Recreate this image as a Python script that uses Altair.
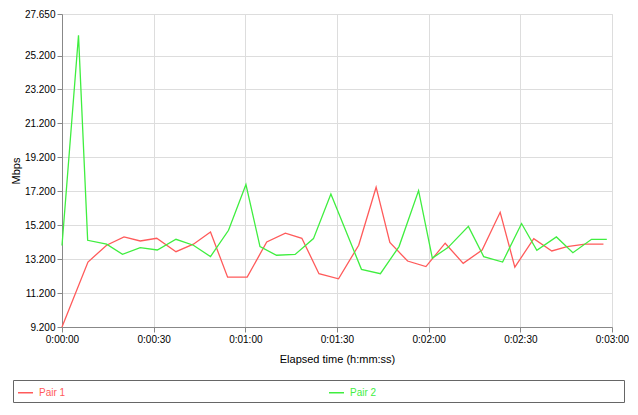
import altair as alt
import pandas as pd

# Pair 1 (red)
t1 = [0, 8.5, 14.6, 20.3, 25.6, 31.0, 37.3, 43.0, 48.6, 54.2, 60.6, 67.0, 73.1, 78.5,
      84.1, 90.5, 97.1, 102.8, 107.3, 113.1, 119.1, 125.4, 131.3, 137.5, 143.4, 148.2,
      154.4, 160.3, 165.3, 171.2, 177.2]
v1 = [9.2, 13.03, 14.02, 14.51, 14.27, 14.43, 13.64, 14.08, 14.8, 12.14, 12.14, 14.21,
      14.73, 14.43, 12.34, 12.04, 14.02, 17.44, 14.18, 13.09, 12.76, 14.14, 12.95, 13.74,
      15.96, 12.73, 14.41, 13.68, 13.94, 14.08, 14.08]

# Pair 2 (green)
t2 = [0, 5.4, 8.4, 14.6, 19.8, 25.6, 31.2, 37.3, 43.0, 48.6, 54.5, 60.2, 64.8, 70.2,
      76.3, 82.3, 88.0, 98.0, 104.2, 110.3, 116.7, 121.2, 126.3, 133.0, 138.0, 144.2,
      150.4, 155.4, 161.8, 167.2, 173.3, 178.3]
v2 = [14.0, 26.4, 14.31, 14.08, 13.48, 13.88, 13.74, 14.37, 14.02, 13.35, 14.9, 17.6,
      13.94, 13.43, 13.48, 14.41, 17.04, 12.6, 12.34, 13.94, 17.24, 13.26, 13.88, 15.13,
      13.35, 13.03, 15.3, 13.72, 14.51, 13.58, 14.37, 14.37]

series = ["Pair 1", "Pair 2"]
colors = ["#ff5a5a", "#3fee3f"]
y_ticks = [9.2, 11.2, 13.2, 15.2, 17.2, 19.2, 21.2, 23.2, 25.2, 27.65]
x_ticks = [0, 30, 60, 90, 120, 150, 180]

df = pd.concat([
    pd.DataFrame({"t": t1, "v": v1, "series": series[0]}),
    pd.DataFrame({"t": t2, "v": v2, "series": series[1]}),
])

FONT = "Liberation Sans"

x_label = ("'0:' + (floor(datum.value/60) < 10 ? '0' : '') + floor(datum.value/60) + ':' + "
           "(datum.value % 60 < 10 ? '0' : '') + (datum.value % 60)")

label_color = alt.ExprRef(
    f"datum.value == '{series[0]}' ? '{colors[0]}' : '{colors[1]}'")

chart = alt.Chart(df).mark_line(strokeWidth=1.3).encode(
    x=alt.X("t:Q",
            scale=alt.Scale(domain=[0, 180], nice=False, zero=False),
            axis=alt.Axis(values=x_ticks, labelExpr=x_label, title="Elapsed time (h:mm:ss)",
                          labelFlush=False, labelOverlap=False, tickSize=5, labelPadding=2,
                          titlePadding=9, titleFontWeight="normal")),
    y=alt.Y("v:Q",
            scale=alt.Scale(domain=[9.2, 27.65], nice=False, zero=False),
            axis=alt.Axis(values=y_ticks, format=".3f", title="Mbps",
                          labelFlush=False, labelOverlap=False, tickSize=5, labelPadding=2,
                          titlePadding=3, titleFontWeight="normal")),
    color=alt.Color("series:N",
                    scale=alt.Scale(domain=series, range=colors),
                    legend=alt.Legend(
                        orient="none", legendX=-49, legendY=366,
                        direction="horizontal", columns=2, columnPadding=260,
                        symbolType="stroke", symbolSize=225, symbolStrokeWidth=1.5,
                        labelOffset=5, padding=4, strokeColor="#666666",
                        title=["\u00a0", "\u00a0"], titleOrient="right",
                        titlePadding=244, titleLineHeight=7, titleFontSize=7,
                        labelFont=FONT, labelFontSize=10, labelColor=label_color,
                    )),
).properties(width=550, height=313, padding={"left": 2, "top": 1, "right": 0, "bottom": 0}
).configure_view(stroke="#8a8a8a", strokeWidth=1
).configure_axis(
    labelFont=FONT, titleFont=FONT, labelFontSize=10, titleFontSize=11,
    labelColor="#333333", titleColor="#333333",
    gridColor="#dcdcdc", gridWidth=1.5, domainColor="#555555", tickColor="#555555",
    domainWidth=1
).configure(background="white")

chart.save("out.html", embed_options={"renderer": "svg", "actions": False})
